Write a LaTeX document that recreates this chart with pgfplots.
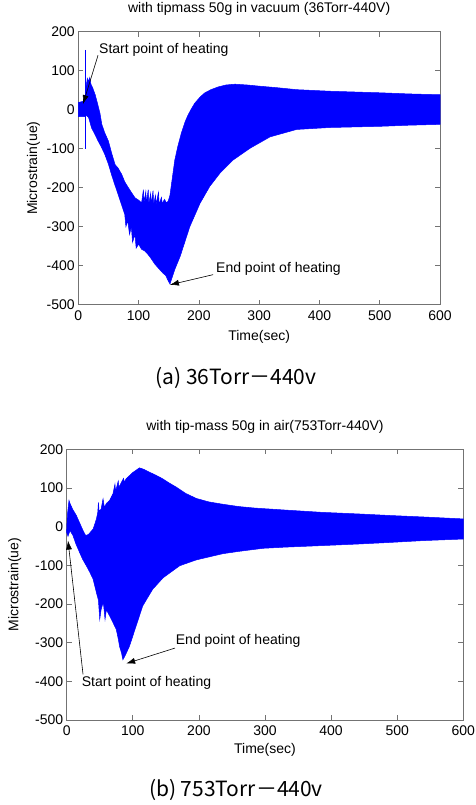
\documentclass[border=0pt]{standalone}
\usepackage{pgfplots}
\pgfplotsset{compat=1.18}
\usepackage{fontspec}
\setmainfont{Liberation Sans}
\newfontfamily\cjk{Noto Sans CJK KR}
\usetikzlibrary{arrows.meta}

\pgfplotsset{
  matfig/.style={
    scale only axis,
    clip=false,
    xmin=0, xmax=600, ymin=-500, ymax=200,
    xtick={0,100,...,600},
    xticklabels={0,100,200,300,400,500,600},
    ytick={-500,-400,...,200},
    yticklabels={-500,-400,-300,-200,-100,0,100,200},
    tick align=inside,
    major tick length=5pt,
    axis line style={black!55, line width=0.6pt},
    tick style={black!55, line width=0.6pt},
    tick label style={font=\fontsize{14}{14}\selectfont},
    xticklabel style={yshift=-2pt},
    label style={font=\fontsize{14}{14}\selectfont},
    title style={font=\fontsize{14}{14}\selectfont, anchor=center},
    xlabel={Time(sec)},
    ylabel={Microstrain(ue)},
  },
  sig/.style={draw=blue, fill=blue, line width=0.5pt},
}
\tikzset{
  arr/.style={-{Latex[length=9pt,width=6pt]}, black, line width=0.6pt},
  txt/.style={anchor=west, inner sep=0pt, font=\fontsize{14}{14}\selectfont},
}

\begin{document}
\begin{tikzpicture}
\useasboundingbox (0pt,-805pt) rectangle (476pt,0pt);

% (a) vacuum
\begin{axis}[matfig,
  at={(78.3pt,-304.7pt)}, anchor=south west, width=361.7pt, height=273.2pt,
  title={with tipmass 50g in vacuum (36Torr-440V)},
  title style={at={(axis description cs:0.5,1.060)}},
  xlabel style={at={(axis description cs:0.5,-0.117)}, anchor=center},
  ylabel style={at={(axis description cs:-0.124,0.5)}, anchor=center},
]
\addplot[sig] coordinates {
  (0,18) (5,20) (10,22) (11,30) (13,60) (15,80) (17,72) (19,82) (21,65) (24,55)
  (28,38) (32,15) (36,-10) (39,-38) (44,-60) (50,-81) (55,-110) (61,-141) (66,-150)
  (72,-166) (77,-185) (83,-200) (88,-212) (94,-226) (100,-232) (105,-239)
  (108,-205) (109,-238) (112,-210) (113,-240) (116,-205) (117,-241) (120,-215)
  (121,-242) (124,-208) (125,-243) (128,-220) (129,-243) (133,-212) (134,-242)
  (138,-225) (139,-241) (143,-230) (146,-239) (149,-235) (152,-220) (156,-175)
  (160,-130) (165,-95) (171,-60) (177,-32) (182,-14) (188,3) (193,16) (202,32)
  (210,43) (220,51) (232,58) (245,63) (260,65) (280,63) (300,60) (330,56)
  (362,51) (417,47) (500,43) (550,40) (600,38)
  (600,-38) (550,-40) (500,-43) (417,-46) (362,-51) (318,-70) (285,-99)
  (257,-129) (235,-163) (218,-197) (202,-240) (185,-300) (169,-376) (160,-410)
  (152,-447) (148,-435) (145,-425) (141,-420) (135,-410) (127,-396) (120,-380)
  (115,-370) (110,-362) (105,-358) (100,-345) (96,-355) (94,-320) (90,-340)
  (88,-300) (85,-320) (82,-285) (79,-300) (77,-268) (72,-245) (66,-217)
  (60,-190) (55,-166) (50,-140) (44,-115) (38,-95) (33,-81) (28,-65) (22,-47)
  (17,-20) (13,-15) (10,-18) (5,-18) (0,-18) (0,18)
};
\addplot[blue, line width=0.6pt] coordinates {(11.5,153) (11.5,-100)};
\draw[arr] (axis cs:32.7,139) -- (axis cs:7.8,14);
\node[txt] at (axis cs:34.3,152) {Start point of heating};
\draw[arr] (axis cs:223.7,-423) -- (axis cs:152,-449);
\node[txt] at (axis cs:228.4,-408) {End point of heating};
\end{axis}

% (b) air
\begin{axis}[matfig,
  at={(66.7pt,-720pt)}, anchor=south west, width=396.6pt, height=270.7pt,
  title={with tip-mass 50g in air(753Torr-440V)},
  title style={at={(axis description cs:0.5,1.060)}},
  xlabel style={at={(axis description cs:0.5,-0.111)}, anchor=center},
  ylabel style={at={(axis description cs:-0.131,0.5)}, anchor=center},
]
\addplot[sig] coordinates {
  (0,-10) (1,30) (3.5,68) (5,60) (9,45) (14.6,29) (20,8) (24.7,-10) (28.7,-23)
  (33,-20) (40,-6) (45,20) (47,37) (48,63) (49,40) (52,45) (55,72) (57,50)
  (60,60) (65,68) (70,85) (73,110) (74,90) (75,98) (78,118) (79,102) (82,112)
  (86,125) (87,115) (90,124) (100,140) (110,152) (117,148) (125,141) (135,133)
  (145,124) (155,113) (166,102) (180,86) (196,73) (215,64) (236,58) (260,52)
  (285,48) (330,43) (386,37) (440,33) (487,29) (540,25) (600,20)
  (600,-32) (540,-36) (487,-41) (440,-45) (386,-49) (330,-53) (297,-56)
  (260,-64) (236,-70) (196,-86) (171,-101) (146,-132) (130,-162) (115,-205)
  (105,-257) (95,-309) (88,-335) (85,-344) (83,-327) (80,-310) (78,-290)
  (75,-266) (70,-248) (65,-231) (60,-215) (58,-240) (56,-205) (55,-197)
  (52,-215) (50,-240) (48,-190) (45,-171) (40,-136) (35,-118) (29.7,-101)
  (24,-84) (19.6,-67) (14,-45) (9.5,-23) (5,-10) (2,-25) (0,-15) (0,-10)
};
\draw[arr] (axis cs:24.7,-382) -- (axis cs:2,-36);
\node[txt] at (axis cs:22.7,-403) {Start point of heating};
\draw[arr] (axis cs:163.8,-314) -- (axis cs:90,-354);
\node[txt] at (axis cs:164.9,-296.5) {End point of heating};
\end{axis}

\node[font=\cjk\fontsize{21}{21}\selectfont] at (236pt,-378pt) {(a) 36Torr－440v};
\node[font=\cjk\fontsize{21}{21}\selectfont] at (236pt,-790pt) {(b) 753Torr－440v};
\end{tikzpicture}
\end{document}
